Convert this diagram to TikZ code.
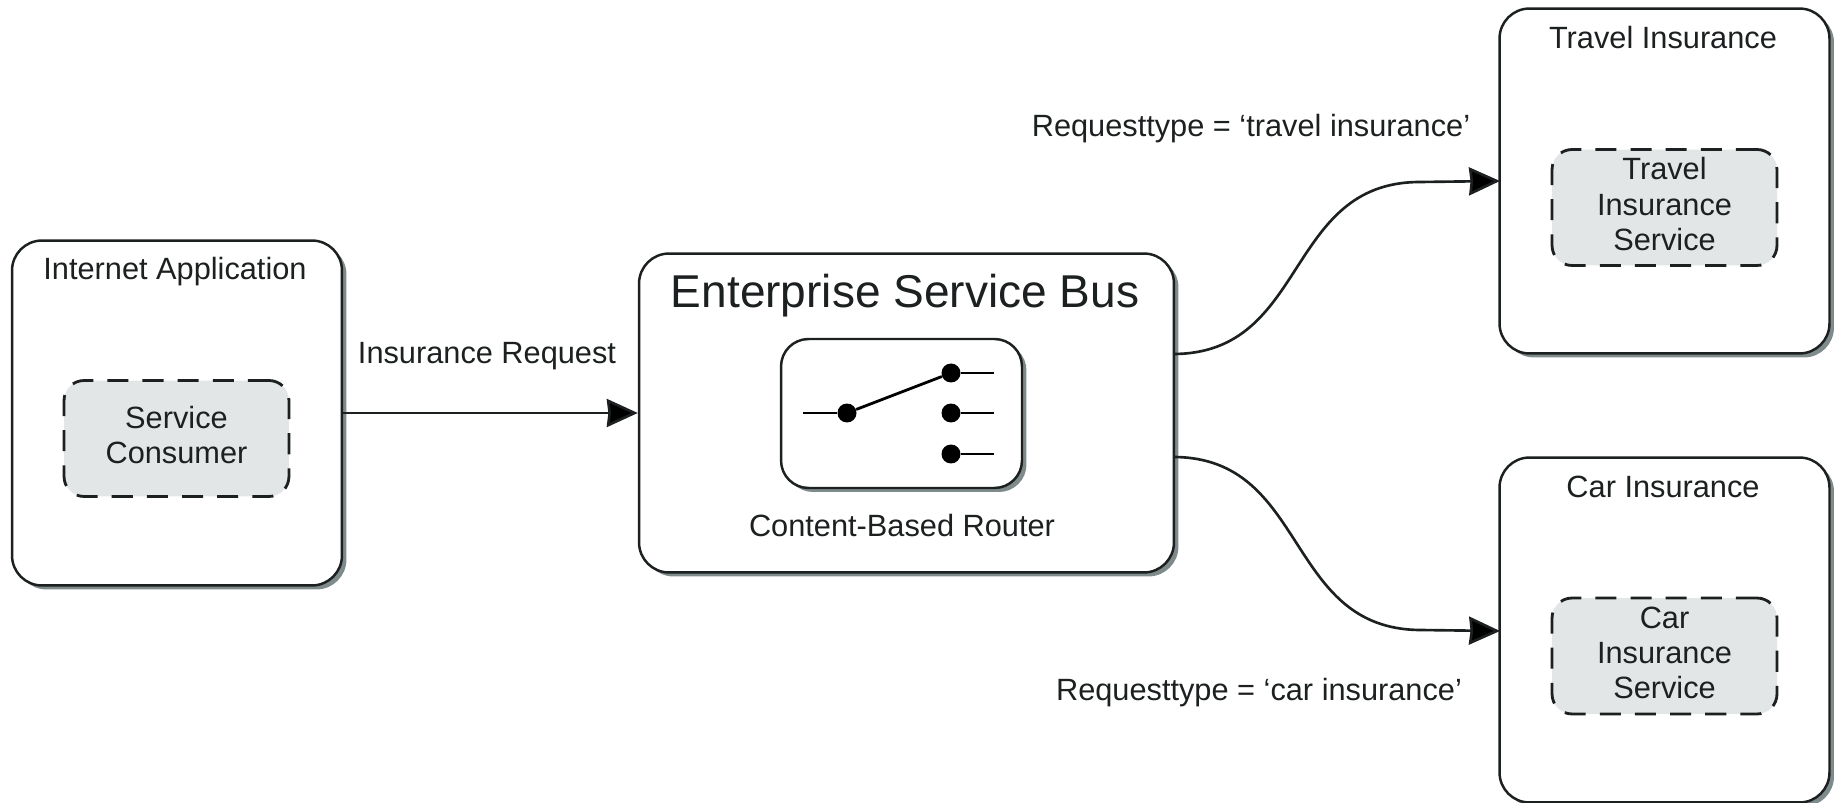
\documentclass[tikz,border=0pt]{standalone}
\usepackage{xcolor}
\usepackage{fontspec}
\setmainfont{Liberation Sans}
\usepackage{tikz}
\usetikzlibrary{arrows.meta}
\usetikzlibrary{shadows}
\definecolor{inkline}{HTML}{1C2020}
\definecolor{svcgray}{HTML}{E3E6E6}
\definecolor{shadowgray}{HTML}{7F8A8A}
\tikzstyle{appbox} = [rectangle, rounded corners=0.6cm, minimum width=6.6cm, minimum height=6.9cm, draw=inkline, line width=1.4pt, fill=white, drop shadow={fill=shadowgray, opacity=1, shadow xshift=0.09cm, shadow yshift=-0.08cm}]
\tikzstyle{busbox} = [appbox, minimum width=10.7cm, minimum height=6.38cm]
\tikzstyle{routerbox} = [appbox, rounded corners=0.55cm, minimum width=4.82cm, minimum height=2.98cm]
\tikzstyle{service} = [rectangle, rounded corners=0.4cm, minimum width=4.5cm, minimum height=2.32cm, text depth=4pt, align=center, inner sep=0pt, draw=inkline, line width=1.6pt, dash pattern=on 12pt off 8pt, fill=svcgray, text=inkline, font=\fontsize{17.5}{20}\selectfont]
\tikzstyle{lbl} = [inner sep=0pt, text=inkline, font=\fontsize{17.5}{20}\selectfont]
\tikzstyle{swdot} = [circle, fill=black, inner sep=0pt, minimum size=0.38cm]
\tikzstyle{arrow} = [line width=1.5pt, draw=inkline, -{Stealth[length=0.62cm, width=0.56cm, inset=0.03cm, fill=black]}]
\tikzstyle{wire} = [line width=1.6pt, draw=black]
\begin{document}
\begin{tikzpicture}[x=0.02cm, y=-0.02cm]
\useasboundingbox (0,0) rectangle (1835,803);
\node (inetapp) [appbox] at (177,413) {};
\node (consumer) [service] at (176.5,438.5) {Service\\Consumer};
\node (inetlbl) [lbl] at (175,272) {Internet Application};
\node (esb) [busbox] at (906.5,413) {};
\node (esblbl) [lbl, font=\fontsize{26.2}{30}\selectfont] at (905,296) {Enterprise Service Bus};
\node (router) [routerbox] at (901.5,413.5) {};
\node (routerlbl) [lbl] at (902,526) {Content-Based Router};
\node (travel) [appbox] at (1664.5,181) {};
\node (travellbl) [lbl] at (1663,38) {Travel Insurance};
\node (travelsvc) [service] at (1664.5,207.5) {Travel\\Insurance\\Service};
\node (car) [appbox] at (1664.5,630) {};
\node (carlbl) [lbl] at (1663,487) {Car Insurance};
\node (carsvc) [service] at (1664.5,656) {Car\\Insurance\\Service};
\node (reqlbl) [lbl] at (487,356) {Insurance Request};
\node (travelreq) [lbl] at (1251,129) {Requesttype = ‘travel insurance’};
\node (carreq) [lbl] at (1259,693) {Requesttype = ‘car insurance’};
\node (swin) [swdot] at (847,413) {};
\node (swtop) [swdot] at (951,373) {};
\node (swmid) [swdot] at (951,413) {};
\node (swlow) [swdot] at (951,454) {};
\coordinate (stubin) at (803,413);
\coordinate (stubtop) at (994,373);
\coordinate (stubmid) at (994,413);
\coordinate (stublow) at (994,454);
\coordinate (busouttop) at (1173,354);
\coordinate (busoutlow) at (1173,457);
\coordinate (travelin) at (1500,181);
\coordinate (carin) at (1500,631);
\draw [wire] (stubin) -- (swin);
\draw [wire] (swin) -- (swtop);
\draw [wire] (swtop) -- (stubtop);
\draw [wire] (swmid) -- (stubmid);
\draw [wire] (swlow) -- (stublow);
\draw [arrow] (inetapp.east) -- (esb.west);
\draw [arrow] (busouttop) .. controls (1309,354) and (1284,182) .. (1420,182) -- (travelin);
\draw [arrow] (busoutlow) .. controls (1309,457) and (1284,629) .. (1420,630) -- (carin);
\end{tikzpicture}
\end{document}
